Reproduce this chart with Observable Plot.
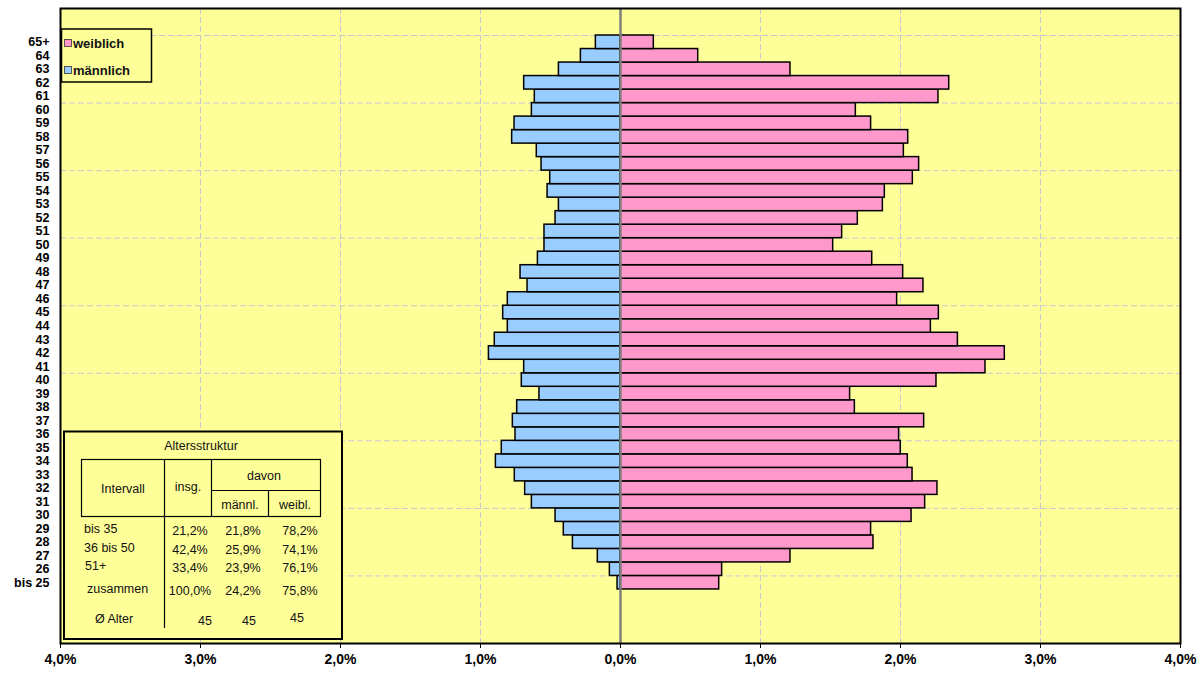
<!DOCTYPE html>
<html><head><meta charset="utf-8">
<script src="https://cdn.jsdelivr.net/npm/d3@7"></script>
<script src="https://cdn.jsdelivr.net/npm/@observablehq/plot@0.6"></script>
<style>
body{margin:0;background:#fff;font-family:"Liberation Sans",Arial,sans-serif}
</style>
</head><body><div id="chart"></div>
<script>
// Age groups, bottom (bis 25) to top (65+)
const ageLabels = ["bis 25","26","27","28","29","30","31","32","33","34","35","36","37","38","39","40","41","42","43","44","45","46","47","48","49","50","51","52","53","54","55","56","57","58","59","60","61","62","63","64","65+"];
// Share of all employees in %, male (drawn to the left)
const male = [0.021,0.076,0.162,0.34,0.405,0.464,0.633,0.681,0.755,0.89,0.848,0.75,0.769,0.738,0.579,0.705,0.688,0.94,0.898,0.805,0.838,0.805,0.664,0.714,0.59,0.543,0.543,0.464,0.44,0.521,0.502,0.564,0.598,0.774,0.757,0.633,0.612,0.688,0.44,0.283,0.176];
// female (drawn to the right)
const female = [0.705,0.726,1.214,1.807,1.79,2.079,2.176,2.264,2.086,2.052,2.002,1.99,2.169,1.674,1.64,2.257,2.607,2.745,2.41,2.217,2.274,1.976,2.164,2.019,1.798,1.519,1.583,1.695,1.874,1.888,2.088,2.133,2.024,2.055,1.79,1.681,2.271,2.348,1.214,0.555,0.238];
const xTicks = [-4,-3,-2,-1,0,1,2,3,4];
const gridY = [1,6,11,16,21,26,31,36,41];
const legendLabels = ["weiblich","männlich"];
const tableTitle = "Altersstruktur";
const tableHead = ["Intervall","insg.","davon","männl.","weibl."];
const tableRowLabels = ["bis 35","36 bis 50","51+","zusammen","Ø Alter"];
const tableInsg = ["21,2%","42,4%","33,4%","100,0%","45"];
const tableMaennl = ["21,8%","25,9%","23,9%","24,2%","45"];
const tableWeibl = ["78,2%","74,1%","76,1%","75,8%","45"];

const colF = "#ff99cc", colM = "#99ccff", bg = "#ffff99", gridCol = "#c8c8d4";
const rows = ageLabels.map((label, k) => ({label, k, m: male[k], f: female[k]}));

const chart = Plot.plot({
  width: 1204, height: 673,
  marginLeft: 60, marginRight: 24, marginTop: 8, marginBottom: 30,
  x: {domain: [-4, 4]},
  y: {domain: [-4, 43]},
  style: {fontFamily: '"Liberation Sans", Arial, sans-serif', background: "#fff", overflow: "visible"},
  marks: [
    Plot.frame({fill: bg, stroke: null}),
    Plot.ruleX(xTicks.filter(d => d !== 0 && Math.abs(d) !== 4), {stroke: gridCol, strokeWidth: 1, strokeDasharray: "6,3"}),
    Plot.ruleY(gridY, {stroke: gridCol, strokeWidth: 1, strokeDasharray: "6,3"}),
    Plot.rect(rows, {x1: d => 0, x2: d => -d.m, y1: d => d.k, y2: d => d.k + 1, fill: colM, stroke: "#000", strokeWidth: 1.5}),
    Plot.rect(rows, {x1: d => 0, x2: d => d.f, y1: d => d.k, y2: d => d.k + 1, fill: colF, stroke: "#000", strokeWidth: 1.5}),
    Plot.ruleX([0], {stroke: "#808080", strokeWidth: 2.5}),
    Plot.frame({stroke: "#000", strokeWidth: 2}),
    Plot.axisX({ticks: xTicks, tickFormat: d => Math.abs(d).toFixed(1).replace(".", ",") + "%", tickSize: 5, tickPadding: 6, fontSize: 14, fontWeight: "bold", label: null}),
    Plot.axisY({ticks: rows.map(d => d.k + 0.5), tickFormat: v => ageLabels[Math.floor(v)], tickSize: 0, tickPadding: 11, fontSize: 12.5, fontWeight: "bold", label: null})
  ]
});
document.getElementById("chart").appendChild(chart);

const svg = d3.select(chart);
const ff = '"Liberation Sans", Arial, sans-serif';

// Legend
const lg = svg.append("g").attr("text-anchor", "start");
lg.append("rect").attr("x", 61.5).attr("y", 29).attr("width", 90).attr("height", 53).attr("fill", bg).attr("stroke", "#000").attr("stroke-width", 1.5);
[[colF, 43], [colM, 70]].forEach(([c, y], i) => {
  lg.append("rect").attr("x", 64.5).attr("y", y - 3.5).attr("width", 7).attr("height", 7).attr("fill", c).attr("stroke", "#333").attr("stroke-width", 0.8);
  lg.append("text").attr("x", 73).attr("y", y).attr("dy", "0.35em").attr("text-anchor", "start").attr("font-family", ff).attr("font-size", 13).attr("font-weight", "bold").attr("fill", "#111").text(legendLabels[i]);
});

// Table box
const tg = svg.append("g").attr("font-family", ff).attr("font-size", 12.5).attr("fill", "#111");
tg.append("rect").attr("x", 64).attr("y", 431.5).attr("width", 278).attr("height", 207.5).attr("fill", bg).attr("stroke", "#000").attr("stroke-width", 2);
const line = (x1, y1, x2, y2) => tg.append("line").attr("x1", x1).attr("y1", y1).attr("x2", x2).attr("y2", y2).attr("stroke", "#000").attr("stroke-width", 1.2);
tg.append("rect").attr("x", 81.5).attr("y", 459.5).attr("width", 239).attr("height", 57).attr("fill", "none").attr("stroke", "#000").attr("stroke-width", 1.2);
line(164.5, 459.5, 164.5, 628);
line(211.5, 459.5, 211.5, 516.5);
line(211.5, 490.5, 320.5, 490.5);
line(268.5, 490.5, 268.5, 516.5);
const txt = (x, y, s, anchor) => tg.append("text").attr("x", x).attr("y", y).attr("dy", "0.35em").attr("text-anchor", anchor).text(s);
txt(201, 446, tableTitle, "middle");
txt(123, 489, tableHead[0], "middle");
txt(188, 487, tableHead[1], "middle");
txt(264, 476, tableHead[2], "middle");
txt(240, 505, tableHead[3], "middle");
txt(295, 505, tableHead[4], "middle");
const rowY = [529, 548, 566, 589, 619];
const labX = [84, 84, 85, 87, 95];
tableRowLabels.forEach((s, i) => {
  txt(labX[i], rowY[i], s, "start");
  txt(i === 4 ? 205 : 190, rowY[i] + 2, tableInsg[i], "middle");
  txt(i === 4 ? 249 : 243, rowY[i] + 2, tableMaennl[i], "middle");
  txt(i === 4 ? 297 : 300, rowY[i] + (i === 4 ? -1 : 2), tableWeibl[i], "middle");
});
</script>
</body></html>
